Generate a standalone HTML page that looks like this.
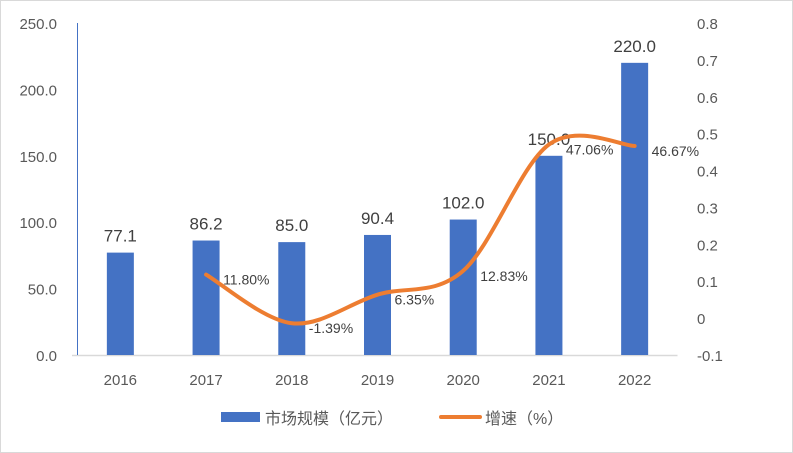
<!DOCTYPE html>
<html><head><meta charset="utf-8"><style>
body{margin:0;background:#fff}
svg{display:block;font-family:"Liberation Sans","Noto Sans CJK SC",sans-serif}
</style></head><body>
<svg id="c" width="793" height="453">
<rect x="0.5" y="0.5" width="792" height="452" fill="#fff" stroke="#d9d9d9"/>
<g id="g"></g>
</svg>
<script>
const categories=["2016","2017","2018","2019","2020","2021","2022"];
const sizeValues=[77.1,86.2,85.0,90.4,102.0,150.0,220.0];
const growthValues=[null,0.118,-0.0139,0.0635,0.1283,0.4706,0.4667];
const growthLabels=["","11.80%","-1.39%","6.35%","12.83%","47.06%","46.67%"];
const leftTicks=[0,50,100,150,200,250];
const rightTicks=[-0.1,0,0.1,0.2,0.3,0.4,0.5,0.6,0.7,0.8];
const NS="http://www.w3.org/2000/svg",g=document.getElementById('g');
function el(t,a,txt){const e=document.createElementNS(NS,t);for(const k in a)e.setAttribute(k,a[k]);if(txt!=null)e.textContent=txt;g.appendChild(e);return e;}
const yTop=23,bot=355,x0=77.5,x1=677.5;
const yL=v=>bot-(v/250)*(bot-yTop);
const yR=v=>bot-((v+0.1)/0.9)*(bot-yTop);
const band=(x1-x0)/categories.length;
const xC=i=>x0+band*(i+0.5);
leftTicks.forEach(t=>{const e=el('text',{x:57,y:yL(t)+6,'text-anchor':'end','font-size':15,fill:'#595959'},t.toFixed(1));

});
rightTicks.forEach(t=>{const e=el('text',{x:697,y:yR(t)+6,'font-size':15,fill:'#595959'},String(Math.round(t*10)/10));

});
const ax=el('line',{x1:72,x2:x1,y1:bot+0.5,y2:bot+0.5,stroke:'#d9d9d9','stroke-width':1.5});


const ay=el('line',{x1:x0,x2:x0,y1:yTop,y2:bot,stroke:'#4472c4','stroke-width':1});


categories.forEach((c,i)=>{
 const b=el('rect',{x:xC(i)-13.5,y:yL(sizeValues[i]),width:27,height:bot-yL(sizeValues[i]),fill:'#4472c4'});
 
 
 const l=el('text',{x:xC(i),y:yL(sizeValues[i])-11,'text-anchor':'middle','font-size':17,fill:'#404040'},sizeValues[i].toFixed(1));
 
 
 const t=el('text',{x:xC(i),y:bot+30,'text-anchor':'middle','font-size':15,fill:'#595959'},c);
 
 
});
const pts=[];growthValues.forEach((v,i)=>{if(v!=null)pts.push([xC(i),yR(v),i]);});
let d='M'+pts[0][0]+','+pts[0][1];
for(let i=0;i<pts.length-1;i++){const p0=pts[i-1]||pts[i],p1=pts[i],p2=pts[i+1],p3=pts[i+2]||p2;
 d+=' C'+(p1[0]+(p2[0]-p0[0])/6)+','+(p1[1]+(p2[1]-p0[1])/6)+' '+(p2[0]-(p3[0]-p1[0])/6)+','+(p2[1]-(p3[1]-p1[1])/6)+' '+p2[0]+','+p2[1];}
const ln=el('path',{d:d,fill:'none',stroke:'#ed7d31','stroke-width':4,'stroke-linecap':'round'});


pts.forEach(p=>{const e=el('text',{x:p[0]+17,y:p[1]+10,'font-size':14,fill:'#404040'},growthLabels[p[2]]);

});
const s1=el('rect',{x:221,y:412,width:39,height:10,fill:'#4472c4'});


const t1=el('text',{x:265,y:424,'font-size':16,fill:'#595959'},'市场规模（亿元）');


const s2=el('line',{x1:441,x2:480,y1:417,y2:417,stroke:'#ed7d31','stroke-width':4,'stroke-linecap':'round'});


const t2=el('text',{x:485,y:424,'font-size':16,fill:'#595959'},'增速（%）');


</script>
</body></html>
